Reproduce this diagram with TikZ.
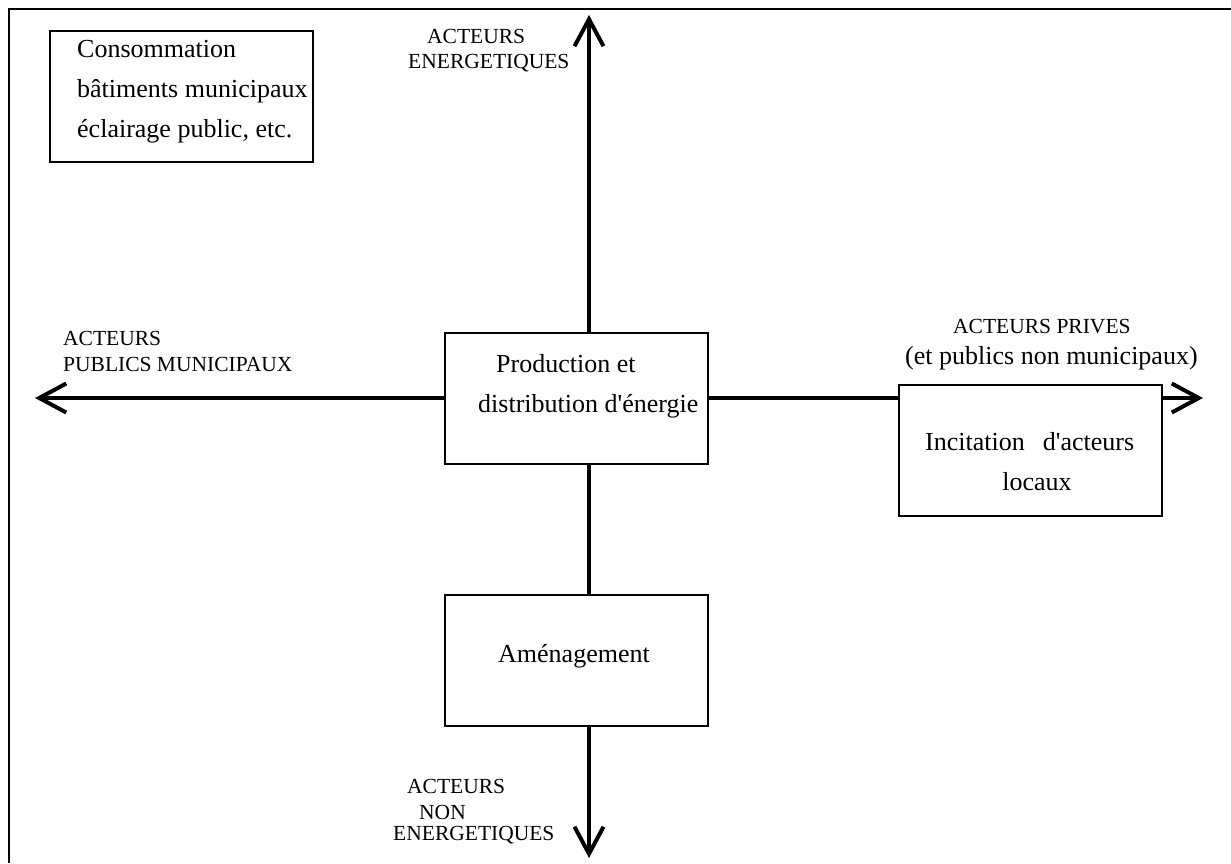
\documentclass[tikz,border=0pt]{standalone}
\usepackage{fontspec}
\setmainfont{Liberation Serif}
\usetikzlibrary{arrows.meta}

\begin{document}
\begin{tikzpicture}[x=1pt,y=-1pt, >={Straight Barb[length=27pt,width=29pt]},
  box/.style={draw,line width=2pt,fill=white,minimum width=263pt,minimum height=131pt,inner sep=0pt},
  axe/.style={line width=4pt},
  txt/.style={inner sep=0pt,font=\fontsize{26}{31}\selectfont},
  lbl/.style={inner sep=0pt,font=\fontsize{21.5}{26}\selectfont}]
\useasboundingbox (0,0) rectangle (1231,863);
\draw[line width=2.5pt] (9,863) -- (9,9) -- (1231,9);

\coordinate (toptip) at (589,15);
\coordinate (bottip) at (589,858);
\coordinate (lefttip) at (35,398);
\coordinate (righttip) at (1203,398);

\node[box] (consobox) at (181.5,96) {};
\node[box] (prodbox) at (576.5,398) {};
\node[box] (amenbox) at (576,660.5) {};
\node[box] (incitbox) at (1030.5,450) {};

\draw[axe,->] (prodbox.north -| toptip) -- (toptip);
\draw[axe] (prodbox.south -| toptip) -- (amenbox.north -| toptip);
\draw[axe,->] (amenbox.south -| bottip) -- (bottip);
\draw[axe,->] (prodbox.west) -- (lefttip);
\draw[axe] (prodbox.east) -- (prodbox.east -| incitbox.west);
\draw[axe,->] (incitbox.east |- righttip) -- (righttip);

\node[txt,anchor=base west] (conso1) at (77,57) {Consommation};
\node[txt,anchor=base west] (conso2) at (77,97) {bâtiments municipaux};
\node[txt,anchor=base west] (conso3) at (77,137) {éclairage public, etc.};

\node[txt,anchor=base west] (prod1) at (496,372) {Production et};
\node[txt,anchor=base west] (prod2) at (478,412) {distribution d\textquotesingle énergie};

\node[txt,anchor=base] (amen) at (574,662) {Aménagement};

\node[txt,anchor=base west] (incit1) at (925,450) {Incitation\hspace{18pt}d\textquotesingle acteurs};
\node[txt,anchor=base] (incit2) at (1037,490) {locaux};

\node[lbl,anchor=base west] (energ1) at (427,43) {ACTEURS};
\node[lbl,anchor=base west] (energ2) at (408,68) {ENERGETIQUES};

\node[lbl,anchor=base west] (publ1) at (63,345) {ACTEURS};
\node[lbl,anchor=base west] (publ2) at (63,371) {PUBLICS MUNICIPAUX};

\node[lbl,anchor=base west] (priv1) at (953,333) {ACTEURS PRIVES};
\node[txt,anchor=base west] (priv2) at (905,364) {(et publics non municipaux)};

\node[lbl,anchor=base west] (nonen1) at (407,793) {ACTEURS};
\node[lbl,anchor=base west] (nonen2) at (419,819) {NON};
\node[lbl,anchor=base west] (nonen3) at (393,840) {ENERGETIQUES};
\end{tikzpicture}
\end{document}
